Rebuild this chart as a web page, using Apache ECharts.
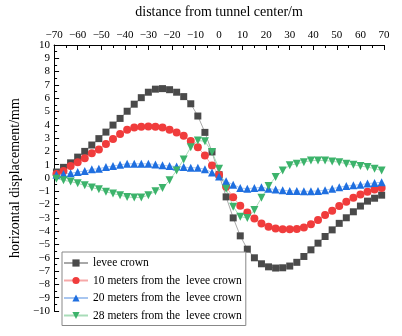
<!DOCTYPE html>
<html><head><meta charset="utf-8">
<script src="https://cdn.jsdelivr.net/npm/echarts@6/dist/echarts.min.js"></script>
<style>html,body{margin:0;padding:0;background:#fff}#c{width:402px;height:336px}</style>
</head><body><div id="c"></div>
<script>
var xValues = [-69,-66,-63,-60,-57,-54,-51,-48,-45,-42,-39,-36,-33,-30,-27,-24,-21,-18,-15,-12,-9,-6,-3,0,3,6,9,12,15,18,21,24,27,30,33,36,39,42,45,48,51,54,57,60,63,66,69];
var leveeCrown = [0.45,0.8,1.14,1.57,2.0,2.48,2.96,3.45,3.98,4.48,5.02,5.55,6.04,6.45,6.68,6.72,6.64,6.45,6.12,5.58,4.66,3.43,1.96,0.25,-1.42,-3.0,-4.35,-5.35,-6.0,-6.45,-6.68,-6.77,-6.75,-6.62,-6.34,-5.9,-5.4,-4.9,-4.4,-3.9,-3.41,-2.99,-2.54,-2.11,-1.74,-1.52,-1.29];
var m10 = [0.3,0.52,0.9,1.19,1.49,1.87,2.14,2.56,2.93,3.31,3.63,3.8,3.86,3.88,3.86,3.8,3.63,3.43,3.18,2.78,2.31,1.69,0.94,0.25,-0.65,-1.45,-2.08,-2.59,-3.05,-3.43,-3.67,-3.8,-3.86,-3.86,-3.83,-3.73,-3.48,-3.16,-2.79,-2.46,-2.11,-1.79,-1.49,-1.24,-1.04,-0.87,-0.75];
var m20 = [0.25,0.3,0.35,0.45,0.52,0.65,0.7,0.82,0.9,0.99,1.07,1.07,1.07,1.07,1.02,0.95,0.9,0.87,0.82,0.77,0.77,0.65,0.42,0.12,-0.25,-0.5,-0.75,-0.8,-0.75,-0.7,-0.8,-0.87,-0.92,-0.97,-0.97,-1.0,-1.0,-0.97,-0.92,-0.8,-0.7,-0.6,-0.55,-0.5,-0.42,-0.37,-0.32];
var m28 = [-0.05,-0.17,-0.27,-0.4,-0.55,-0.72,-0.85,-1.04,-1.17,-1.29,-1.42,-1.47,-1.47,-1.29,-1.0,-0.75,-0.17,0.57,1.4,2.31,2.82,2.76,1.96,0.7,-0.8,-2.16,-2.91,-3.0,-2.41,-1.49,-0.6,0.07,0.57,0.95,1.07,1.19,1.32,1.32,1.32,1.25,1.19,1.07,0.99,0.9,0.82,0.7,0.57];
var seriesNames = ['levee crown','10 meters from the  levee crown','20 meters from the  levee crown','28 meters from the  levee crown'];
var xTitle = 'distance from tunnel center/m';
var yTitle = 'horizontal displacement/mm';

function pairs(ys){ return xValues.map(function(x,i){ return [x, ys[i]]; }); }
function fmt(v){ return String(v).replace('-', '\u2212'); }
var FONT = '"Liberation Serif","Times New Roman",serif';

var chart = echarts.init(document.getElementById('c'), null, {renderer:'canvas'});
function mk(name, data, sym, col, lcol, size, rot){
  return {name:name, type:'line', data:pairs(data), symbol:sym, symbolSize:size, symbolRotate:rot||0,
    itemStyle:{color:col}, lineStyle:{color:lcol, width:1}, z: 2};
}
chart.setOption({
  animation:false,
  grid:{left:52, right:18, top:41, bottom:25},
  xAxis:{type:'value', position:'top', min:-70, max:70, interval:10,
    name:xTitle, nameLocation:'middle', nameGap:26,
    nameTextStyle:{fontFamily:FONT, fontSize:14, color:'#000'},
    axisLine:{show:true, onZero:false, lineStyle:{color:'#000', width:1}},
    axisTick:{inside:true, length:5, lineStyle:{color:'#000'}},
    minorTick:{show:true, splitNumber:2, length:3, lineStyle:{color:'#000'}},
    splitLine:{show:false},
    axisLabel:{fontFamily:FONT, fontSize:11, color:'#000', margin:4, formatter:fmt}},
  yAxis:{type:'value', min:-10, max:10, interval:1,
    name:yTitle, nameLocation:'middle', nameGap:24, nameRotate:90,
    nameTextStyle:{fontFamily:FONT, fontSize:14, color:'#000'},
    axisLine:{show:true, onZero:false, lineStyle:{color:'#000', width:1}},
    axisTick:{inside:true, length:5, lineStyle:{color:'#000'}},
    minorTick:{show:true, splitNumber:2, length:3, lineStyle:{color:'#000'}},
    splitLine:{show:false},
    axisLabel:{fontFamily:FONT, fontSize:11, color:'#000', margin:4, formatter:fmt}},
  legend:{orient:'vertical', left:62, top:252, itemGap:5.5, itemWidth:24, itemHeight:9,
    padding:[5,4,4,1], backgroundColor:'#fff', borderColor:'#888', borderWidth:1,
    textStyle:{fontFamily:FONT, fontSize:11.5, color:'#000'}, data:seriesNames},
  series:[
    mk(seriesNames[0], leveeCrown, 'rect', '#4a4a4a', '#a8a8a8', 7),
    mk(seriesNames[1], m10, 'circle', '#f03c3c', '#f6a8a8', 8),
    mk(seriesNames[2], m20, 'triangle', '#1f6fe0', '#a8c6f0', 8),
    mk(seriesNames[3], m28, 'triangle', '#3cb36b', '#a8dcb8', 8, 180)
  ]
});
</script></body></html>
